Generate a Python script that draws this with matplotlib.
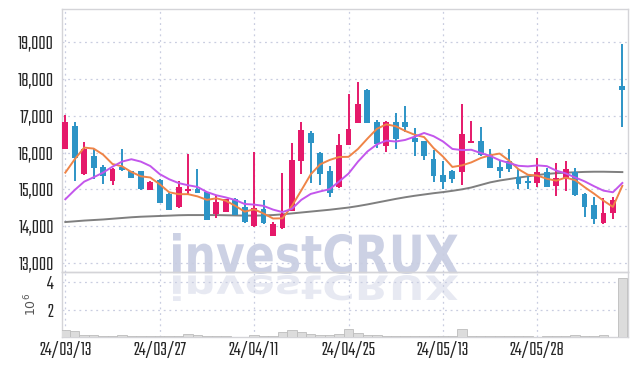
import matplotlib
matplotlib.use("Agg")
import matplotlib.pyplot as plt
from matplotlib.textpath import TextPath
from matplotlib.patches import PathPatch
from matplotlib.font_manager import FontProperties
from matplotlib.transforms import Affine2D
from matplotlib.ticker import FuncFormatter

# ticks every 10 trading days
tick_pos = [0, 10, 20, 30, 40, 50]
tick_labels = ["24/03/13", "24/03/27", "24/04/11", "24/04/25", "24/05/13", "24/05/28"]

opens = [16110, 16730, 15410, 15910, 15610, 15240, 15620, 15500, 15500, 14980,
         15260, 14870, 14510, 14960, 15000, 14920, 14320, 14390, 14730, 14510,
         14010, 14470, 13740, 13940, 14420, 15780, 16530, 16000, 15500, 15060,
         16210, 16820, 17710, 16830, 16190, 16830, 16830, 16410, 16320, 15830,
         15390, 15510, 15480, 16270, 16320, 15940, 15620, 15760, 15330, 15240,
         15180, 15480, 15090, 15280, 15470, 14870, 14570, 14080, 14350, 17820]
highs = [17030, 16840, 16300, 16090, 15660, 15580, 16090, 15510, 15510, 15230,
         15280, 14890, 15240, 15970, 15550, 14930, 14840, 14750, 14760, 14710,
         16010, 14710, 14120, 15440, 16260, 16830, 16600, 16010, 15640, 16500,
         17590, 17920, 17720, 16890, 16850, 17080, 17260, 16670, 16330, 16070,
         15760, 15520, 17320, 16850, 16690, 16090, 15760, 16090, 15560, 15370,
         15850, 15580, 15730, 15760, 15580, 14890, 14800, 14760, 14800, 18970]
lows = [16110, 15230, 15390, 15280, 15140, 15110, 15500, 15300, 14990, 14970,
        14620, 14430, 14500, 14850, 14900, 14160, 14230, 14380, 14290, 14090,
        13980, 14060, 13720, 13930, 14400, 15420, 15180, 15120, 14800, 15040,
        16200, 16810, 16810, 16120, 16030, 16100, 16550, 15910, 15800, 15210,
        15000, 15170, 15120, 16260, 15900, 15580, 15300, 15460, 15000, 15000,
        15060, 15060, 14820, 14960, 14830, 14240, 14060, 14070, 14180, 16690]
closes = [16840, 15840, 16090, 15590, 15370, 15560, 15530, 15320, 15000, 15210,
          14640, 14440, 15060, 15000, 14910, 14170, 14650, 14730, 14300, 14120,
          14480, 14080, 14060, 14320, 15800, 16620, 16260, 15410, 14910, 16210,
          16640, 17330, 16820, 16240, 16830, 16380, 16690, 16300, 15920, 15350,
          15210, 15280, 16510, 16330, 15940, 15590, 15510, 15560, 15150, 15180,
          15480, 15070, 15300, 15560, 14850, 14530, 14180, 14350, 14710, 17710]
# volume in millions
volume = [0.54, 0.44, 0.17, 0.17, 0.10, 0.05, 0.17, 0.10, 0.06, 0.06,
          0.06, 0.06, 0.06, 0.24, 0.17, 0.10, 0.07, 0.07, 0.03, 0.03,
          0.17, 0.10, 0.05, 0.39, 0.54, 0.39, 0.24, 0.17, 0.17, 0.24,
          0.61, 0.32, 0.17, 0.17, 0.07, 0.07, 0.07, 0.07, 0.07, 0.07,
          0.07, 0.07, 0.61, 0.05, 0.05, 0.05, 0.05, 0.05, 0.05, 0.05,
          0.03, 0.10, 0.10, 0.10, 0.17, 0.10, 0.10, 0.17, 0.03, 4.32]
ma5 = [15455, 15820, 16137, 16110, 15946, 15690, 15628, 15473, 15355, 15323,
       15139, 14921, 14869, 14869, 14809, 14714, 14756, 14691, 14551, 14393,
       14456, 14342, 14207, 14211, 14547, 14974, 15411, 15682, 15800, 15882,
       15885, 16100, 16381, 16647, 16770, 16718, 16591, 16487, 16423, 16126,
       15893, 15610, 15652, 15734, 15852, 15929, 15975, 15784, 15548, 15397,
       15375, 15288, 15237, 15319, 15252, 15061, 14883, 14692, 14523, 15096]
ma10 = [14730, 14983, 15210, 15329, 15455, 15618, 15755, 15820, 15755, 15635,
        15415, 15275, 15171, 15112, 15066, 14927, 14839, 14780, 14710, 14601,
        14585, 14549, 14449, 14381, 14470, 14715, 14876, 14944, 15005, 15214,
        15430, 15755, 16031, 16223, 16326, 16302, 16345, 16434, 16535, 16448,
        16305, 16100, 16069, 16078, 15989, 15911, 15793, 15718, 15641, 15625,
        15652, 15632, 15511, 15434, 15325, 15218, 15086, 14965, 14921, 15174]
ma_long = [14110, 14130, 14150, 14165, 14180, 14200, 14220, 14240, 14255, 14265,
           14275, 14285, 14295, 14300, 14300, 14300, 14300, 14295, 14290, 14285,
           14285, 14290, 14300, 14320, 14345, 14370, 14395, 14420, 14445, 14475,
           14505, 14545, 14590, 14640, 14690, 14740, 14785, 14825, 14860, 14895,
           14925, 14960, 15000, 15050, 15120, 15190, 15240, 15280, 15320, 15355,
           15390, 15420, 15440, 15455, 15465, 15475, 15480, 15480, 15475, 15470]

UP = "#e5196a"
DOWN = "#2d94c6"
GRID = "#c9cde0"
SPINE = "#d4d4d8"
TXT = "#262626"
tick_font = ["Teko", "DejaVu Sans"]
TICK_SIZE = 14.5

W, H = 635, 366
fig = plt.figure(figsize=(W / 100, H / 100), dpi=100)
ax = fig.add_axes([62 / W, 1 - 272 / H, 566 / W, 263 / H])
axv = fig.add_axes([62 / W, 1 - 337 / H, 566 / W, 65 / H], sharex=ax)

for a in (ax, axv):
    a.set_facecolor("none")
    for s in a.spines.values():
        s.set_color(SPINE)
        s.set_linewidth(1)
    a.grid(True, color=GRID, linestyle=(0, (1.5, 3)), linewidth=0.9)
    a.set_axisbelow(True)
    a.tick_params(length=0, colors=TXT)

x = list(range(len(closes)))
colors = [UP if c >= o else DOWN for o, c in zip(opens, closes)]
bottoms = [min(o, c) for o, c in zip(opens, closes)]
heights = [max(abs(c - o), 40) for o, c in zip(opens, closes)]

ax.plot(x, ma_long, color="#7f7f7f", lw=1.4, zorder=2)
ax.vlines(x, lows, highs, colors=colors, lw=1.4, zorder=3)
ax.bar(x, heights, bottom=bottoms, width=0.62, color=colors, zorder=4)
ax.plot(x, ma5, color="#ef8447", lw=1.4, zorder=5)
ax.plot(x, ma10, color="#c356ec", lw=1.4, zorder=5)

ax.set_xlim(-0.35, 59.6)
ax.set_ylim(12750, 19910)
ax.set_yticks(range(13000, 20000, 1000))
ax.yaxis.set_major_formatter(FuncFormatter(lambda v, p: f"{int(v):,}"))
ax.set_xticks(tick_pos)
plt.setp(ax.get_xticklabels(), visible=False)
for lab in ax.get_yticklabels():
    lab.set_fontfamily(tick_font)
    lab.set_fontweight("bold")
    lab.set_fontsize(TICK_SIZE)
ax.tick_params(axis="y", pad=6)

axv.bar(x, [v * 1e6 for v in volume], width=1.0, color="#dcdcdc",
        edgecolor="#bdbdbd", linewidth=0.6, zorder=3)
axv.set_ylim(0, 4.75e6)
axv.set_yticks([2e6, 4e6])
axv.set_yticklabels(["2", "4"])
axv.set_xticks(tick_pos)
axv.set_xticklabels(tick_labels)
for lab in axv.get_yticklabels() + axv.get_xticklabels():
    lab.set_fontfamily(tick_font)
    lab.set_fontweight("bold")
    lab.set_fontsize(TICK_SIZE)
axv.tick_params(axis="y", pad=6)
axv.tick_params(axis="x", pad=3)
axv.text(-0.054, 0.5, "$10^6$", transform=axv.transAxes, rotation=90,
         ha="center", va="center", fontsize=9, color="#555555")

# watermark + its reflection, placed in pixel coords
tp = TextPath((0, 0), "investCRUX", size=100,
              prop=FontProperties(family="DejaVu Sans", weight="bold"))
ext = tp.get_extents()


def put_mark(x0, x1, y_base, y_top, color, alpha):
    sx = (x1 - x0) / ext.width
    sy = (y_base - y_top) / ext.height
    tr = Affine2D().translate(-ext.x0, -ext.y0).scale(sx, sy).translate(x0, H - y_base)
    patch = PathPatch(tp, transform=tr, facecolor=color, edgecolor="none",
                      alpha=alpha, zorder=-1)
    fig.add_artist(patch)


put_mark(173, 458, 274, 233, "#c4c9e0", 0.85)
put_mark(173, 458, 275, 301, "#c4c9e0", 0.4)

fig.savefig("out.png", dpi=100, facecolor="white")
